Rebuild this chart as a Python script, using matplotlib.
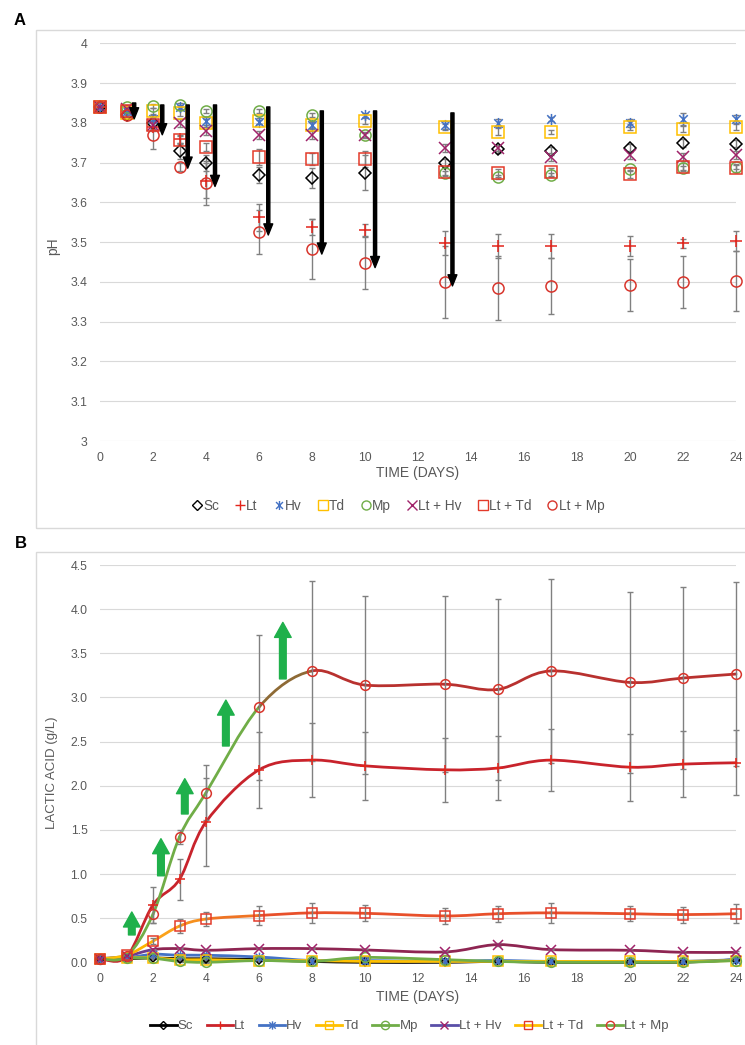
import matplotlib
matplotlib.use('Agg')
import matplotlib.pyplot as plt
import numpy as np
from matplotlib.path import Path
from matplotlib.patches import PathPatch, Rectangle
from matplotlib.lines import Line2D

plt.rcParams['font.family'] = ['Liberation Sans', 'DejaVu Sans']

days = [0, 1, 2, 3, 4, 6, 8, 10, 13, 15, 17, 20, 22, 24]
names = ['Sc', 'Lt', 'Hv', 'Td', 'Mp', 'Lt + Hv', 'Lt + Td', 'Lt + Mp']

# A: pH
ph_sc = [3.84, 3.82, 3.80, 3.73, 3.70, 3.668, 3.662, 3.675, 3.70, 3.734, 3.728, 3.737, 3.75, 3.748]
ph_lt = [3.84, 3.83, 3.79, 3.76, 3.655, 3.562, 3.538, 3.53, 3.497, 3.49, 3.49, 3.49, 3.497, 3.504]
ph_hv = [3.84, 3.83, 3.81, 3.84, 3.805, 3.802, 3.795, 3.82, 3.795, 3.80, 3.81, 3.80, 3.81, 3.81]
ph_td = [3.84, 3.825, 3.83, 3.825, 3.80, 3.805, 3.795, 3.805, 3.79, 3.778, 3.778, 3.79, 3.785, 3.79]
ph_mp = [3.84, 3.84, 3.843, 3.846, 3.83, 3.83, 3.82, 3.77, 3.673, 3.665, 3.67, 3.685, 3.686, 3.69]
ph_lthv = [3.84, 3.835, 3.795, 3.80, 3.78, 3.77, 3.77, 3.77, 3.737, 3.737, 3.715, 3.718, 3.713, 3.718]
ph_lttd = [3.84, 3.83, 3.795, 3.757, 3.74, 3.715, 3.71, 3.71, 3.677, 3.675, 3.677, 3.672, 3.69, 3.687]
ph_ltmp = [3.84, 3.82, 3.77, 3.69, 3.648, 3.525, 3.482, 3.448, 3.40, 3.385, 3.39, 3.393, 3.40, 3.403]

ph_err = {
    'Sc': [0, 0.005, 0.01, 0.02, 0.02, 0.02, 0.025, 0.045, 0.01, 0.01, 0.01, 0.01, 0.01, 0.01],
    'Lt': [0, 0.005, 0.01, 0.01, 0.045, 0.035, 0.02, 0.015, 0.03, 0.03, 0.03, 0.025, 0.012, 0.025],
    'Hv': [0, 0.005, 0.01, 0.005, 0.01, 0.005, 0.01, 0.005, 0.01, 0.01, 0.005, 0.01, 0.015, 0.01],
    'Td': [0, 0.005, 0.008, 0.008, 0.01, 0.008, 0.008, 0.008, 0.008, 0.008, 0.005, 0.008, 0.008, 0.008],
    'Mp': [0, 0.005, 0.005, 0.005, 0.005, 0.005, 0.005, 0.005, 0.005, 0.005, 0.005, 0.005, 0.005, 0.005],
    'Lt + Hv': [0, 0.005, 0.01, 0.01, 0.01, 0.01, 0.01, 0.008, 0.01, 0.008, 0.01, 0.01, 0.01, 0.01],
    'Lt + Td': [0, 0.005, 0.01, 0.01, 0.01, 0.02, 0.015, 0.02, 0.01, 0.01, 0.01, 0.01, 0.01, 0.01],
    'Lt + Mp': [0, 0.005, 0.035, 0.01, 0.055, 0.055, 0.075, 0.065, 0.09, 0.08, 0.07, 0.065, 0.065, 0.075],
}

# black arrows (x, start, end)
arr_a_x = [1.29, 2.35, 3.31, 4.34, 6.35, 8.37, 10.38, 13.3]
arr_a_top = [3.85, 3.845, 3.845, 3.845, 3.84, 3.83, 3.83, 3.825]
arr_a_tip = [3.81, 3.77, 3.686, 3.64, 3.518, 3.47, 3.436, 3.39]

# B: lactic acid (g/L)
la_sc = [0.04, 0.04, 0.05, 0.04, 0.04, 0.03, 0.01, 0.0, 0.0, 0.01, 0.0, 0.0, 0.0, 0.03]
la_lt = [0.04, 0.06, 0.65, 0.94, 1.59, 2.18, 2.29, 2.225, 2.18, 2.20, 2.29, 2.21, 2.245, 2.26]
la_hv = [0.04, 0.05, 0.09, 0.08, 0.08, 0.06, 0.02, 0.02, 0.01, 0.02, 0.01, 0.01, 0.01, 0.03]
la_td = [0.04, 0.05, 0.05, 0.03, 0.03, 0.02, 0.02, 0.01, 0.01, 0.01, 0.01, 0.01, 0.01, 0.02]
la_mp = [0.04, 0.05, 0.045, 0.01, 0.0, 0.02, 0.01, 0.055, 0.03, 0.01, 0.0, 0.0, 0.0, 0.02]
la_lthv = [0.04, 0.07, 0.144, 0.155, 0.136, 0.155, 0.155, 0.14, 0.117, 0.20, 0.144, 0.136, 0.113, 0.113]
la_lttd = [0.04, 0.08, 0.24, 0.41, 0.49, 0.53, 0.56, 0.555, 0.525, 0.55, 0.56, 0.55, 0.54, 0.55]
la_ltmp = [0.04, 0.07, 0.545, 1.42, 1.92, 2.89, 3.30, 3.14, 3.15, 3.09, 3.30, 3.17, 3.22, 3.265]

la_err = {
    'Sc': [0.005] * 14,
    'Lt': [0.01, 0.01, 0.2, 0.23, 0.5, 0.43, 0.42, 0.385, 0.36, 0.36, 0.35, 0.38, 0.375, 0.37],
    'Hv': [0.005] * 14,
    'Td': [0.005] * 14,
    'Mp': [0.005] * 14,
    'Lt + Hv': [0.005, 0.01, 0.01, 0.01, 0.01, 0.01, 0.01, 0.01, 0.01, 0.015, 0.01, 0.01, 0.01, 0.01],
    'Lt + Td': [0.01, 0.01, 0.03, 0.075, 0.08, 0.105, 0.11, 0.09, 0.093, 0.09, 0.11, 0.085, 0.09, 0.11],
    'Lt + Mp': [0.01, 0.01, 0.1, 0.08, 0.31, 0.82, 1.02, 1.01, 1.0, 1.02, 1.04, 1.025, 1.035, 1.045],
}

# green arrows (x, start, end)
arr_b_x = [1.2, 2.3, 3.2, 4.75, 6.9]
arr_b_bot = [0.31, 0.98, 1.68, 2.45, 3.21]
arr_b_tip = [0.57, 1.40, 2.08, 2.97, 3.85]

# marker for Excel "star": X with a vertical bar
star = Path([(-1, -1), (1, 1), (-1, 1), (1, -1), (0, -1.3), (0, 1.3)],
            [Path.MOVETO, Path.LINETO, Path.MOVETO, Path.LINETO, Path.MOVETO, Path.LINETO])

RED = '#E3241B'
styles = {
    'Sc': dict(marker='D', mec='#000000', line='#000000'),
    'Lt': dict(marker='+', mec=RED, line='#C8232C'),
    'Hv': dict(marker=star, mec='#4472C4', line='#4472C4'),
    'Td': dict(marker='s', mec='#FFC000', line='#FFC000'),
    'Mp': dict(marker='o', mec='#70AD47', line='#70AD47'),
    'Lt + Hv': dict(marker='x', mec='#A0236A', line='#7A2A6A'),
    'Lt + Td': dict(marker='s', mec='#E33A2A', line='#FFB000'),
    'Lt + Mp': dict(marker='o', mec='#D8352C', line='#70AD47'),
}
# per-segment line colours (Excel gradient lines)
seg_cols = {
    'Lt + Hv': ['#5A4FA8', '#6E3C8C'] + ['#8E2552'] * 11,
    'Lt + Td': ['#FFC000', '#FFB400', '#FBA21A', '#F6901E', '#EF7424'] + ['#E8502A'] * 8,
    'Lt + Mp': ['#70AD47'] * 5 + ['#8E6A35'] + ['#B8312F'] * 7,
}

ph_data = [ph_sc, ph_lt, ph_hv, ph_td, ph_mp, ph_lthv, ph_lttd, ph_ltmp]
la_data = [la_sc, la_lt, la_hv, la_td, la_mp, la_lthv, la_lttd, la_ltmp]

fig = plt.figure(figsize=(7.45, 10.45), dpi=100)
W, H = 745.0, 1045.0

# chart area frames
fig.patches.append(Rectangle((36 / W, 1 - 528 / H), 720 / W, 498 / H, transform=fig.transFigure,
                             fill=False, ec='#D9D9D9', lw=1))
fig.patches.append(Rectangle((36 / W, -0.01), 720 / W, 1 - 552 / H + 0.01, transform=fig.transFigure,
                             fill=False, ec='#D9D9D9', lw=1))
fig.text(20 / W, 1 - 20.5 / H, 'A', fontsize=12, fontweight='bold', ha='center', va='center')
fig.text(20.5 / W, 1 - 543.5 / H, 'B', fontsize=12, fontweight='bold', ha='center', va='center')

axA = fig.add_axes([100 / W, 1 - 441 / H, 636 / W, 397.7 / H])
axB = fig.add_axes([100 / W, 1 - 962.3 / H, 636 / W, 397.3 / H])


def style_ax(ax, yticks, labels):
    for s in ax.spines.values():
        s.set_visible(False)
    ax.set_xlim(0, 24)
    ax.set_xticks(range(0, 25, 2))
    ax.set_yticks(yticks)
    ax.set_yticklabels(labels)
    ax.tick_params(length=0, labelsize=8.8, labelcolor='#595959')
    ax.tick_params(axis='x', pad=8)
    ax.tick_params(axis='y', pad=9)
    ax.grid(axis='y', color='#D9D9D9', lw=0.8)
    ax.set_axisbelow(True)


def unclip(cont):
    for art in cont.get_children():
        art.set_clip_on(False)


# ---- panel A
yt = np.round(np.arange(3.0, 4.01, 0.1), 1)
style_ax(axA, yt, ['%g' % v for v in yt])
axA.set_ylim(3, 4)
for n, vals in zip(names, ph_data):
    eb = axA.errorbar(days, vals, yerr=ph_err[n], fmt='none', ecolor='#808080', elinewidth=1,
                      capsize=2.5, capthick=1, zorder=2)
    unclip(eb)
for n, vals in zip(names, ph_data):
    st = styles[n]
    ms = 6 if st['marker'] == 'D' else 8
    axA.plot(days, vals, ls='none', marker=st['marker'], ms=ms, mfc='none', mec=st['mec'],
             mew=1.1, zorder=3, clip_on=False)
for x, y0, y1 in zip(arr_a_x, arr_a_top, arr_a_tip):
    axA.annotate('', xy=(x, y1), xytext=(x, y0),
                 arrowprops=dict(arrowstyle='simple,tail_width=0.28,head_width=0.8,head_length=1.0',
                                 color='black', mutation_scale=8, shrinkA=0, shrinkB=0), zorder=5)
axA.set_ylabel('pH', fontsize=10, color='#595959')
axA.yaxis.set_label_coords(-0.063, 0.49)
axA.set_xlabel('TIME (DAYS)', fontsize=10, color='#595959')
axA.xaxis.set_label_coords(0.5, -0.080)
axA.xaxis.label.set_va('center')

hA = []
for n in names:
    st = styles[n]
    ms = 5 if st['marker'] == 'D' else 6.5
    hA.append(Line2D([], [], ls='none', marker=st['marker'], ms=ms, mfc='none', mec=st['mec'], mew=1))
fig.legend(hA, names, loc='center', bbox_to_anchor=(0.535, 1 - 506 / H), ncol=8, frameon=False,
           fontsize=9.8, handlelength=0.6, handletextpad=0.15, columnspacing=1.25, labelcolor='#595959')


# ---- panel B
def bezier_segments(x, y):
    pts = np.column_stack([x, y]).astype(float)
    n = len(pts)
    segs = []
    for i in range(n - 1):
        p0 = pts[i - 1] if i > 0 else pts[i]
        p1, p2 = pts[i], pts[i + 1]
        p3 = pts[i + 2] if i + 2 < n else pts[i + 1]
        segs.append([p1, p1 + (p2 - p0) / 6, p2 - (p3 - p1) / 6, p2])
    return segs


yt = np.arange(0, 4.51, 0.5)
style_ax(axB, yt, ['%.1f' % v for v in yt])
axB.set_ylim(0, 4.5)
codes = [Path.MOVETO, Path.CURVE4, Path.CURVE4, Path.CURVE4]
for n, vals in zip(names, la_data):
    st = styles[n]
    cols = seg_cols.get(n, [st['line']] * (len(days) - 1))
    for seg, c in zip(bezier_segments(days, vals), cols):
        axB.add_patch(PathPatch(Path(seg, codes), fill=False, ec=c, lw=2.0, capstyle='round',
                                zorder=3, clip_on=False))
for n, vals in zip(names, la_data):
    eb = axB.errorbar(days, vals, yerr=la_err[n], fmt='none', ecolor='#808080', elinewidth=1,
                      capsize=2.5, capthick=1, zorder=4)
    unclip(eb)
for n, vals in zip(names, la_data):
    st = styles[n]
    ms = 4.5 if st['marker'] == 'D' else 7
    axB.plot(days, vals, ls='none', marker=st['marker'], ms=ms, mfc='none', mec=st['mec'],
             mew=1.1, zorder=5, clip_on=False)
for x, y0, y1 in zip(arr_b_x, arr_b_bot, arr_b_tip):
    axB.annotate('', xy=(x, y1), xytext=(x, y0),
                 arrowprops=dict(arrowstyle='simple,tail_width=0.4,head_width=1.0,head_length=0.9',
                                 color='#1FB04B', mutation_scale=12, shrinkA=0, shrinkB=0), zorder=6)
axB.set_ylabel('LACTIC ACID (g/L)', fontsize=9.5, color='#595959')
axB.yaxis.set_label_coords(-0.066, 0.478)
axB.set_xlabel('TIME (DAYS)', fontsize=10, color='#595959')
axB.xaxis.set_label_coords(0.5, -0.0866)
axB.xaxis.label.set_va('center')

hB = []
for n in names:
    st = styles[n]
    ms = 4 if st['marker'] == 'D' else 6
    hB.append(Line2D([], [], color=seg_cols.get(n, [st['line']])[0], lw=2, marker=st['marker'], ms=ms,
                     mfc='none', mec=st['mec'], mew=1))
fig.legend(hB, names, loc='center', bbox_to_anchor=(0.5497, 1 - 1026 / H), ncol=8, frameon=False,
           fontsize=9.5, handlelength=2.0, handletextpad=0.1, columnspacing=1.0, labelcolor='#595959')

fig.savefig('out.png', dpi=100)
